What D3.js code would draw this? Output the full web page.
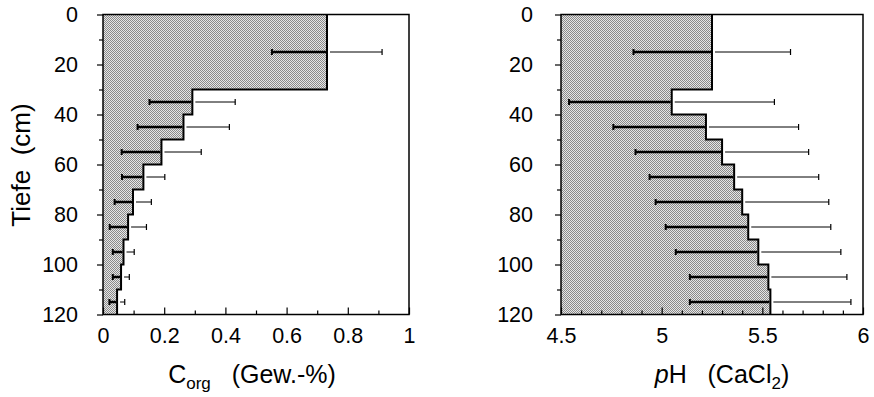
<!DOCTYPE html>
<html>
<head>
<meta charset="utf-8">
<script src="https://cdn.jsdelivr.net/npm/d3@7"></script>
<style>
  body { margin: 0; background: #fff; }
  svg text { font-family: "Liberation Sans", Arial, sans-serif; fill: #000; }
</style>
</head>
<body>
<script>
// soil layers (cm)
var layerTop    = [0, 30, 40, 50, 60, 70, 80, 90, 100, 110];
var layerBottom = [30, 40, 50, 60, 70, 80, 90, 100, 110, 120];

// organic carbon, mean and standard deviation (Gew.-%)
var corgMean = [0.732, 0.292, 0.263, 0.191, 0.132, 0.098, 0.082, 0.067, 0.059, 0.046];
var corgSd   = [0.180, 0.140, 0.150, 0.130, 0.070, 0.060, 0.060, 0.035, 0.027, 0.025];

// pH (CaCl2), mean and standard deviation
var phMean = [5.25, 5.05, 5.22, 5.30, 5.36, 5.40, 5.43, 5.48, 5.53, 5.54];
var phSd   = [0.39, 0.51, 0.46, 0.43, 0.42, 0.43, 0.41, 0.41, 0.39, 0.40];

var depthTicks = [0, 20, 40, 60, 80, 100, 120];
var depthMinor = [10, 30, 50, 70, 90, 110];
var corgTicks = [0, 0.2, 0.4, 0.6, 0.8, 1];
var corgMinor = [0.1, 0.3, 0.5, 0.7, 0.9];
var phTicks = [4.5, 5, 5.5, 6];
var phMinor = [4.6, 4.7, 4.8, 4.9, 5.1, 5.2, 5.3, 5.4, 5.6, 5.7, 5.8, 5.9];

var W = 874, H = 397;
var plotTop = 14.5, plotBottom = 314.5;

var svg = d3.select('body').append('svg')
  .attr('width', W)
  .attr('height', H);

// grainy grey fill like the printed raster
var pat = svg.append('defs').append('pattern')
  .attr('id', 'raster')
  .attr('patternUnits', 'userSpaceOnUse')
  .attr('width', 2).attr('height', 2);
pat.append('rect').attr('width', 2).attr('height', 2).attr('fill', '#e6e6e6');
pat.append('rect').attr('x', 0).attr('y', 0).attr('width', 1).attr('height', 1).attr('fill', '#8a8a8a');
pat.append('rect').attr('x', 1).attr('y', 1).attr('width', 1).attr('height', 1).attr('fill', '#8a8a8a');
pat.selectAll('rect').attr('shape-rendering', 'crispEdges');

var y = d3.scaleLinear().domain([0, 120]).range([plotTop, plotBottom]);

function mid(i) { return y((layerTop[i] + layerBottom[i]) / 2); }

function panel(left, right, xDomain, means, sds, xTicks, xMinor, labelPad) {
  var x = d3.scaleLinear().domain(xDomain).range([left, right]);
  var g = svg.append('g');

  // step profile
  var pts = [];
  means.forEach(function(m, i) {
    pts.push([m, layerTop[i]]);
    pts.push([m, layerBottom[i]]);
  });
  g.append('path')
    .datum(pts)
    .attr('fill', 'url(#raster)')
    .attr('d', d3.area()
      .y(function(d) { return y(d[1]); })
      .x0(x(xDomain[0]))
      .x1(function(d) { return x(d[0]); }));
  g.append('path')
    .datum(pts)
    .attr('fill', 'none')
    .attr('stroke', '#000')
    .attr('stroke-width', 2)
    .attr('d', d3.line()
      .x(function(d) { return x(d[0]); })
      .y(function(d) { return y(d[1]); }));

  // error bars: thick inside the fill, thin outside
  var bars = g.selectAll('.err').data(means).enter().append('g');
  bars.append('line')
    .attr('x1', function(d, i) { return x(d - sds[i]); })
    .attr('x2', function(d) { return x(d) - 1; })
    .attr('y1', function(d, i) { return mid(i); })
    .attr('y2', function(d, i) { return mid(i); })
    .attr('stroke', '#000').attr('stroke-width', 2.5);
  bars.append('line')
    .attr('x1', function(d) { return x(d) + 3; })
    .attr('x2', function(d, i) { return x(d + sds[i]); })
    .attr('y1', function(d, i) { return mid(i); })
    .attr('y2', function(d, i) { return mid(i); })
    .attr('stroke', '#000').attr('stroke-width', 1);
  bars.append('line')
    .attr('x1', function(d, i) { return x(d - sds[i]); })
    .attr('x2', function(d, i) { return x(d - sds[i]); })
    .attr('y1', function(d, i) { return mid(i) - 3; })
    .attr('y2', function(d, i) { return mid(i) + 3; })
    .attr('stroke', '#000').attr('stroke-width', 2);
  bars.append('line')
    .attr('x1', function(d, i) { return x(d + sds[i]); })
    .attr('x2', function(d, i) { return x(d + sds[i]); })
    .attr('y1', function(d, i) { return mid(i) - 3; })
    .attr('y2', function(d, i) { return mid(i) + 3; })
    .attr('stroke', '#000').attr('stroke-width', 1.2);

  // frame
  g.append('rect')
    .attr('x', left).attr('y', plotTop)
    .attr('width', right - left).attr('height', plotBottom - plotTop)
    .attr('fill', 'none').attr('stroke', '#000').attr('stroke-width', 1.5);

  // y axis (ticks outward)
  g.append('g').attr('transform', 'translate(' + left + ',0)')
    .call(d3.axisLeft(y).tickValues(depthTicks).tickSize(6).tickSizeOuter(0).tickPadding(labelPad));
  g.append('g').attr('transform', 'translate(' + left + ',0)')
    .call(d3.axisLeft(y).tickValues(depthMinor).tickSize(4).tickFormat(''));

  // x axis (ticks inward)
  g.append('g').attr('transform', 'translate(0,' + plotBottom + ')')
    .call(d3.axisBottom(x).tickValues(xTicks).tickSize(-7).tickSizeOuter(0).tickPadding(13).tickFormat(d3.format('~g')));
  g.append('g').attr('transform', 'translate(0,' + plotBottom + ')')
    .call(d3.axisBottom(x).tickValues(xMinor).tickSize(-4).tickFormat(''));

  g.selectAll('.domain').remove();
  g.selectAll('.tick line').attr('stroke', '#000').attr('stroke-width', 1.2);
  g.selectAll('.tick text')
    .attr('font-family', '"Liberation Sans", Arial, sans-serif')
    .attr('font-size', 21.5)
    .attr('fill', '#000');
  return x;
}

panel(103, 409, [0, 1], corgMean, corgSd, corgTicks, corgMinor, 19);
panel(561, 863, [4.5, 6], phMean, phSd, phTicks, phMinor, 22);

// axis titles
svg.append('text')
  .attr('transform', 'translate(30,165) rotate(-90)')
  .attr('text-anchor', 'middle')
  .attr('font-size', 26)
  .style('white-space', 'pre')
  .text('Tiefe  (cm)');

var t1 = svg.append('text')
  .attr('x', 252).attr('y', 383)
  .attr('text-anchor', 'middle')
  .attr('font-size', 25)
  .style('white-space', 'pre');
t1.append('tspan').text('C');
t1.append('tspan').attr('dy', 6).attr('font-size', 17).text('org');
t1.append('tspan').attr('dy', -6).text('   (Gew.-%)');

var t2 = svg.append('text')
  .attr('x', 722).attr('y', 383)
  .attr('text-anchor', 'middle')
  .attr('font-size', 25)
  .style('white-space', 'pre');
t2.append('tspan').attr('font-style', 'italic').text('p');
t2.append('tspan').text('H   (CaCl');
t2.append('tspan').attr('dy', 6).attr('font-size', 17).text('2');
t2.append('tspan').attr('dy', -6).text(')');
</script>
</body>
</html>
